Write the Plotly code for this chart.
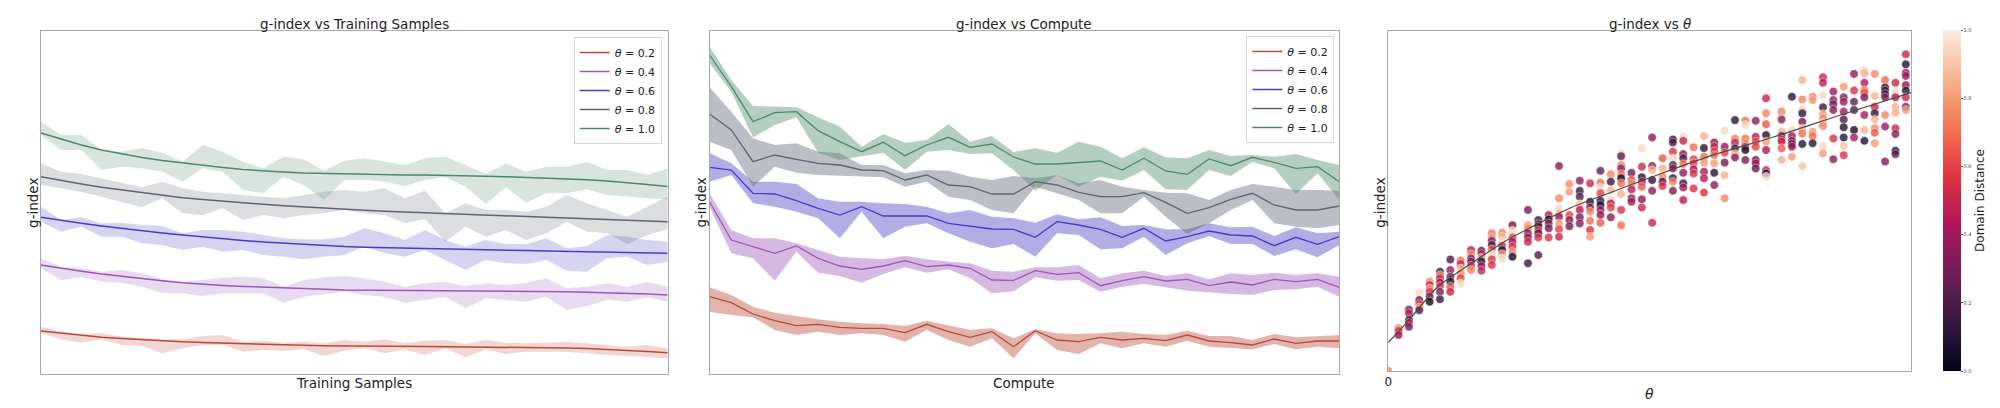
import plotly.graph_objects as go

# ---------------- data ----------------
THETA_LABELS = ["0.2", "0.4", "0.6", "0.8", "1.0"]
COLORS = ["#b94a38", "#9b59b6", "#4a3cc2", "#5f6575", "#4c8a6c"]

# Panel 1: g-index vs training samples (arbitrary g-index units, no ticks shown)
train_steps = list(range(32))
train_mean_02 = [43, 40.8, 38.7, 36.7, 35.4, 34.2, 33.2, 32.3, 31.5, 30.8, 30.2, 29.6, 29, 28.7, 28.3, 28, 27.9, 27.8, 27.7, 27.5, 27.3, 27.2, 27.1, 26.9, 26.7, 26.4, 26, 25.5, 24.7, 23.7, 22.6, 21.3]
train_hi_02 = [47.3, 42.5, 40, 40.7, 37.3, 36, 34.7, 34.7, 38, 39, 32.3, 33.3, 31.3, 32.3, 30.7, 34, 32.3, 34.7, 30.7, 33.3, 34, 30, 34, 31.3, 30.7, 31.3, 32.3, 30.7, 29, 27.3, 29, 25.7]
train_lo_02 = [40.7, 34.7, 31.3, 34.7, 29, 28, 20.7, 25.7, 29, 29, 22.3, 24, 23.3, 24.7, 18, 23.3, 25.7, 20.7, 24.7, 19, 25.7, 16.7, 24.7, 20, 22.3, 22.3, 22.3, 20.7, 19, 18, 16.7, 15.7]

train_mean_04 = [109, 105.7, 102.7, 100, 97.6, 95.4, 93.3, 91.3, 89.8, 88.6, 87.6, 86.7, 86, 85.3, 84.7, 84, 83.9, 83.7, 83.6, 83.4, 83.3, 83.2, 83, 82.9, 82.7, 82.5, 82.2, 81.8, 81.3, 80.7, 80, 79]
train_hi_04 = [115.7, 107, 105.7, 102.3, 104, 100.7, 95, 92.3, 94, 96.3, 97.3, 95.7, 87.3, 94, 96.7, 98, 95.7, 92.3, 87.3, 90.7, 92.3, 88, 90.7, 89, 91.3, 95.7, 85.7, 87.3, 90.7, 87.3, 92.3, 87.3]
train_lo_04 = [105.7, 94, 97.3, 92.3, 91.3, 87.3, 80.7, 80.7, 78, 80.7, 80.7, 80.7, 71.3, 77.3, 80, 82.3, 79, 77.3, 71.3, 74, 77.3, 65.7, 75.7, 74, 72.3, 77.3, 64, 68, 74, 72.3, 76.7, 72.3]

train_mean_06 = [156.7, 153.5, 150.7, 148, 145.5, 143, 141, 139, 137, 135.2, 133.5, 132, 130.7, 129.5, 128.4, 127.4, 126.7, 126.2, 125.8, 125.4, 125, 124.6, 124.2, 123.8, 123.4, 123, 122.7, 122.3, 122, 121.6, 121.2, 120.7]
train_hi_06 = [167.3, 154, 156.7, 150.7, 151.3, 149, 148, 140.7, 144, 144, 142.3, 139, 135.7, 134.7, 134.7, 137.3, 145.7, 140.7, 134, 144, 134, 127.3, 134, 130, 130, 135.7, 125.7, 128, 139, 137.3, 134, 132.3]
train_lo_06 = [152.3, 142.3, 147.3, 137.3, 137.3, 130.7, 129, 124, 127.3, 122.3, 124, 119, 117.3, 114.7, 117.3, 119, 127.3, 120.7, 117.3, 124, 114, 104, 114, 110.7, 110, 114, 103.3, 102.3, 115.7, 117.3, 109, 112.3]

train_mean_08 = [197.3, 193.5, 190, 186.7, 184, 181.5, 179, 176.3, 174.5, 172.7, 171, 169.7, 168.3, 167, 165.8, 164.7, 163.7, 162.8, 162, 161, 160, 159.3, 158.7, 158, 157.3, 156.7, 156, 155.4, 154.7, 154, 153.2, 152.3]
train_hi_08 = [210.7, 202.3, 200, 195.7, 191.3, 186.7, 192.3, 185.7, 182.3, 180.7, 179, 177.3, 175.7, 179, 182.3, 184, 182.3, 185.7, 175.7, 183.3, 161, 170.7, 164, 164, 162.3, 167.3, 179, 170.7, 164, 157.3, 167.3, 177.3]
train_lo_08 = [189, 185.7, 182.3, 177.3, 172.3, 166.7, 175.7, 160.7, 159, 165.7, 154, 159, 155.7, 159, 160.7, 164, 160.7, 159, 150.7, 155, 132.3, 147.3, 137.3, 144, 134, 140.7, 152.3, 142.3, 140.7, 130, 139, 145]

train_mean_10 = [241, 235, 229, 224, 220, 216.5, 213.5, 211, 208.5, 206.5, 204.5, 203, 202, 201, 200.5, 200, 199.7, 199.4, 199.1, 198.9, 198.7, 198.3, 197.8, 197.3, 196.7, 196, 195.2, 194.2, 193, 191.5, 189.5, 187.5]
train_hi_10 = [252.3, 239, 239, 224, 222.3, 225.7, 221.3, 212.3, 229, 222.3, 212.3, 205.7, 217.3, 214.7, 203.3, 213.3, 215.7, 212.3, 209, 215.7, 217.3, 209, 200, 210.7, 202.3, 207.3, 207.3, 212.3, 204, 204, 199, 205.7]
train_lo_10 = [239, 224, 224, 204, 207.3, 205.7, 202.3, 192.3, 205.7, 202.3, 184, 180.7, 197.3, 189, 174, 194, 194, 192.3, 188, 194, 196.7, 187.3, 170, 186.7, 171.3, 180.7, 180.7, 184.7, 179, 177.3, 175.7, 174.7]

# Panel 2: g-index vs compute
compute_steps = list(range(30))
comp_mean_02 = [77.3, 71.3, 60, 53.3, 48.3, 49.7, 46.7, 45.7, 45.7, 41.3, 49.7, 42.3, 36.7, 42.3, 27.3, 43.3, 34, 32.3, 36.7, 34, 35.7, 33.3, 39, 33, 31.3, 29, 35, 30.7, 33, 33]
comp_hi_02 = [86.7, 79, 67.3, 61.3, 58, 54.7, 52.3, 50.7, 50, 48, 53.3, 49, 44, 45.7, 35.7, 44.7, 40.7, 40, 40.7, 42.3, 40, 39, 43.3, 38, 38, 34, 40, 36.7, 38, 39]
comp_lo_02 = [62.3, 59, 56.7, 44, 39, 42.3, 39, 40.7, 39, 32.3, 44, 34, 27.3, 35.7, 15.7, 40.7, 24, 20, 30.7, 25.7, 30.7, 27.3, 33.3, 27.3, 25.7, 24.7, 30, 24.7, 27.3, 25.7]

comp_mean_04 = [172.3, 134, 127.3, 120.7, 128, 115.7, 108, 104.7, 108, 113.3, 107.3, 109, 105.7, 94, 93.7, 103.3, 99.7, 101.3, 88.3, 93.3, 97.3, 93, 94.7, 88.3, 92, 89, 94.7, 92.3, 94.7, 86.7]
comp_hi_04 = [180.7, 144, 135.7, 135.7, 130.7, 124, 117.3, 115.7, 114.7, 118, 114.7, 112.3, 110.7, 103.3, 102.3, 106.7, 106.7, 109, 95.7, 100.7, 103.3, 98, 100.7, 94.7, 100.7, 99, 101.3, 99, 100.7, 97.3]
comp_lo_04 = [167.3, 120.7, 115.7, 93.3, 122.3, 101.3, 98, 91.3, 100, 106.7, 101.3, 104.7, 95.7, 80.7, 82.7, 96.7, 93.3, 94, 82.3, 87.3, 90, 86.7, 83.3, 81.3, 80, 79, 84, 84.7, 87.3, 77.3]

comp_mean_06 = [206.7, 204, 180.7, 180, 173.3, 165.7, 159, 167.3, 158, 158, 158, 150.7, 148, 145, 144.7, 136.7, 152.3, 149, 144.7, 136.7, 145.7, 133, 137.3, 143, 139, 138, 128.3, 136.7, 129.7, 137.3]
comp_hi_06 = [220.7, 210.7, 192.3, 192.3, 190, 175.7, 172.3, 172.3, 170.7, 170, 167.3, 160.7, 164, 157.3, 155.7, 151.3, 159.7, 154.7, 156.7, 148, 149, 144.7, 144.7, 150.7, 146.7, 147.3, 138, 146.7, 140.7, 142.3]
comp_lo_06 = [192.3, 199, 170.7, 167.3, 162.3, 155.7, 135.7, 162.3, 135.7, 147.3, 150.7, 140.7, 132.3, 125.7, 130, 117.3, 140.7, 139, 124.7, 125.7, 137.3, 119, 130.7, 138, 130, 130, 118, 124.7, 116.7, 129]

comp_mean_08 = [260, 244, 212.3, 219, 214.7, 210.7, 209, 204, 203.3, 194, 199, 189, 187.3, 180, 180, 192.3, 189, 181.7, 177.3, 177.3, 181.3, 171.7, 160.7, 166.3, 174.7, 180.7, 169, 164, 164, 168]
comp_hi_08 = [286.7, 262.3, 235.7, 229, 230.7, 222.3, 220.7, 209, 209, 200.7, 204, 203.3, 197.3, 194, 198, 195.7, 199, 190.7, 194, 187.3, 184, 181.3, 180.7, 174, 184, 190, 187.3, 184, 184, 183.3]
comp_lo_08 = [232.3, 224, 187.3, 207.3, 201.3, 199, 198, 197.3, 196.7, 187.3, 192.3, 177.3, 174, 164, 160.7, 187.3, 180.7, 174, 160.7, 160.7, 177.3, 157.3, 140, 150.7, 164, 174, 150.7, 147.3, 145.7, 149]

comp_mean_10 = [319, 287.3, 252.3, 261.3, 262.3, 243.3, 232.3, 222.3, 231.7, 218.3, 229, 236.7, 226.7, 230, 217, 210, 210, 211.3, 213, 204, 215.7, 203, 199.7, 215, 208.3, 216.7, 211.7, 205.7, 207.3, 192.3]
comp_hi_10 = [327.3, 294, 268, 267.3, 266.7, 256.7, 247.3, 227.3, 240, 231.3, 234, 250, 232.3, 238, 222, 225.7, 221.3, 232.3, 227.3, 215.7, 226.7, 216.7, 215.7, 224, 218, 219, 217.3, 220, 214, 209]
comp_lo_10 = [310.7, 282.3, 236.7, 249, 256.7, 221.3, 214, 217.3, 221.3, 204, 222.3, 224, 220, 220.7, 204, 183.3, 199, 187.3, 197.3, 193.3, 204, 184.7, 184, 204, 198, 212.3, 205.7, 180, 200.7, 174]

# Panel 3: g-index vs theta, coloured by domain distance
col_theta = [0.02, 0.04, 0.06, 0.08, 0.10, 0.12, 0.14, 0.16, 0.18, 0.20, 0.22, 0.24,
             0.27, 0.29, 0.31, 0.33, 0.35, 0.37, 0.39, 0.41, 0.43, 0.45, 0.47, 0.49,
             0.51, 0.53, 0.55, 0.57, 0.59, 0.61, 0.63, 0.65, 0.67, 0.69, 0.71, 0.73,
             0.76, 0.78, 0.80, 0.82, 0.84, 0.86, 0.88, 0.90, 0.92, 0.94, 0.96, 0.98, 1.00]
col_g = [
    [0.125, 0.117, 0.105],
    [0.180, 0.169, 0.149, 0.141, 0.129],
    [0.229, 0.208, 0.196, 0.186, 0.178],
    [0.262, 0.252, 0.242, 0.232, 0.218, 0.203],
    [0.291, 0.281, 0.272, 0.259, 0.249, 0.232, 0.210],
    [0.327, 0.296, 0.276, 0.262, 0.247, 0.232],
    [0.324, 0.314, 0.301, 0.286, 0.272, 0.257],
    [0.355, 0.343, 0.330, 0.321, 0.309, 0.296],
    [0.353, 0.343, 0.333, 0.321, 0.308, 0.294],
    [0.404, 0.392, 0.382, 0.370, 0.357, 0.343, 0.327, 0.311],
    [0.406, 0.394, 0.379, 0.367, 0.355, 0.343, 0.330],
    [0.428, 0.412, 0.392, 0.379, 0.365, 0.350, 0.335],
    [0.473, 0.428, 0.419, 0.404, 0.392, 0.379, 0.316],
    [0.443, 0.431, 0.424, 0.414, 0.404, 0.392, 0.340],
    [0.458, 0.445, 0.433, 0.419, 0.392],
    [0.602, 0.507, 0.477, 0.463, 0.453, 0.433, 0.416, 0.394],
    [0.549, 0.526, 0.458, 0.443, 0.425],
    [0.559, 0.529, 0.512, 0.490, 0.473, 0.451, 0.433],
    [0.551, 0.497, 0.480, 0.468, 0.441, 0.414, 0.394],
    [0.588, 0.553, 0.539, 0.522, 0.500, 0.487, 0.473, 0.458, 0.435],
    [0.578, 0.556, 0.531, 0.504, 0.492, 0.480, 0.451],
    [0.639, 0.631, 0.605, 0.595, 0.578, 0.566, 0.551, 0.520, 0.473, 0.428],
    [0.582, 0.561, 0.551, 0.533, 0.507, 0.497],
    [0.654, 0.600, 0.569, 0.556, 0.541, 0.504, 0.480],
    [0.686, 0.602, 0.590, 0.561, 0.529, 0.435],
    [0.625, 0.595, 0.571, 0.556, 0.543],
    [0.680, 0.671, 0.644, 0.625, 0.605, 0.595, 0.566, 0.556, 0.529],
    [0.688, 0.676, 0.637, 0.625, 0.608, 0.582, 0.551, 0.539, 0.502],
    [0.657, 0.622, 0.610, 0.592, 0.580, 0.536],
    [0.690, 0.655, 0.629, 0.612, 0.585, 0.566, 0.524],
    [0.671, 0.659, 0.644, 0.634, 0.610, 0.582, 0.546],
    [0.706, 0.659, 0.641, 0.612, 0.575, 0.507],
    [0.737, 0.683, 0.671, 0.654, 0.637, 0.627],
    [0.735, 0.723, 0.683, 0.669, 0.659, 0.649, 0.620],
    [0.735, 0.688, 0.674, 0.659, 0.620, 0.610, 0.595],
    [0.801, 0.757, 0.725, 0.693, 0.674, 0.649, 0.590, 0.580, 0.571],
    [0.762, 0.739, 0.703, 0.690, 0.680, 0.674, 0.654, 0.620],
    [0.806, 0.708, 0.690, 0.676, 0.667, 0.659, 0.629],
    [0.855, 0.798, 0.767, 0.757, 0.732, 0.713, 0.698, 0.667, 0.602],
    [0.806, 0.796, 0.703, 0.690, 0.669],
    [0.863, 0.847, 0.811, 0.775, 0.755, 0.742, 0.729, 0.720, 0.661, 0.639],
    [0.821, 0.796, 0.784, 0.767, 0.683, 0.622],
    [0.835, 0.804, 0.791, 0.762, 0.739, 0.716, 0.686, 0.661, 0.634],
    [0.873, 0.824, 0.791, 0.767, 0.708, 0.686],
    [0.884, 0.875, 0.847, 0.825, 0.818, 0.804, 0.752, 0.708, 0.676],
    [0.873, 0.808, 0.776, 0.757, 0.739, 0.713, 0.700, 0.669],
    [0.855, 0.833, 0.824, 0.814, 0.804, 0.752, 0.718, 0.615],
    [0.847, 0.818, 0.804, 0.776, 0.759, 0.713, 0.696, 0.647, 0.637],
    [0.931, 0.901, 0.876, 0.867, 0.840, 0.824, 0.804, 0.776, 0.767],
]
col_dist = [
    [0.72, 0.55, 0.38],
    [0.30, 0.45, 0.08, 0.50, 0.30],
    [0.95, 0.30, 0.60, 0.80, 0.20],
    [0.75, 0.50, 0.80, 0.55, 0.30, 0.05],
    [0.15, 0.75, 0.50, 0.35, 0.60, 0.30, 0.15],
    [0.20, 0.40, 0.25, 0.10, 0.65, 0.50],
    [0.70, 0.50, 0.85, 0.75, 0.60, 0.95],
    [0.45, 0.75, 0.35, 0.30, 0.55, 0.75],
    [0.20, 0.45, 0.80, 0.05, 0.40, 0.50],
    [0.70, 0.80, 0.35, 0.20, 0.65, 0.95, 0.55, 0.55],
    [0.75, 0.85, 0.95, 0.50, 0.10, 0.80, 0.95],
    [0.25, 0.95, 0.60, 0.40, 0.55, 0.75, 0.05],
    [0.30, 0.80, 0.75, 0.35, 0.40, 0.50, 0.15],
    [0.15, 0.30, 0.05, 0.60, 0.20, 0.55, 0.20],
    [0.45, 0.05, 0.35, 0.30, 0.55],
    [0.35, 0.75, 0.95, 0.85, 0.35, 0.80, 0.60, 0.50],
    [0.75, 0.80, 0.60, 0.35, 0.30],
    [0.35, 0.15, 0.20, 0.90, 0.45, 0.30, 0.35],
    [0.50, 0.10, 0.30, 0.75, 0.70, 0.55, 0.80],
    [0.25, 0.70, 0.95, 0.60, 0.15, 0.05, 0.40, 0.35, 0.65],
    [0.75, 0.15, 0.85, 0.95, 0.45, 0.60, 0.35],
    [0.95, 0.25, 0.75, 0.40, 0.70, 0.05, 0.70, 0.85, 0.55, 0.70],
    [0.30, 0.60, 0.75, 0.45, 0.35, 0.40],
    [0.95, 0.50, 0.10, 0.40, 0.65, 0.35, 0.50],
    [0.35, 0.35, 0.85, 0.10, 0.35, 0.50],
    [0.65, 0.85, 0.75, 0.20, 0.55],
    [0.10, 0.20, 0.55, 0.95, 0.20, 0.35, 0.10, 0.75, 0.30],
    [0.95, 0.50, 0.35, 0.20, 0.70, 0.35, 0.15, 0.40, 0.45],
    [0.70, 0.60, 0.60, 0.35, 0.55, 0.55],
    [0.85, 0.10, 0.70, 0.80, 0.40, 0.45, 0.55],
    [0.30, 0.50, 0.55, 0.70, 0.80, 0.10, 0.35],
    [0.95, 0.35, 0.60, 0.30, 0.85, 0.75],
    [0.10, 0.75, 0.50, 0.20, 0.85, 0.35],
    [0.70, 0.95, 0.70, 0.75, 0.50, 0.05, 0.30],
    [0.35, 0.45, 0.60, 0.60, 0.25, 0.40, 0.25],
    [0.50, 0.75, 0.65, 0.10, 0.80, 0.40, 0.50, 0.05, 0.95],
    [0.75, 0.35, 0.85, 0.20, 0.55, 0.50, 0.65, 0.85],
    [0.10, 0.95, 0.40, 0.30, 0.25, 0.35, 0.80],
    [0.85, 0.75, 0.90, 0.15, 0.30, 0.85, 0.70, 0.10, 0.90],
    [0.75, 0.80, 0.80, 0.70, 0.10],
    [0.50, 0.45, 0.95, 0.15, 0.80, 0.75, 0.85, 0.75, 0.95, 0.80],
    [0.40, 0.35, 0.30, 0.35, 0.55, 0.35],
    [0.80, 0.30, 0.40, 0.40, 0.20, 0.10, 0.10, 0.90, 0.55],
    [0.35, 0.55, 0.25, 0.20, 0.05, 0.40],
    [0.95, 0.85, 0.45, 0.70, 0.65, 0.30, 0.40, 0.85, 0.10],
    [0.75, 0.85, 0.50, 0.10, 0.85, 0.75, 0.65, 0.80],
    [0.70, 0.10, 0.15, 0.20, 0.35, 0.75, 0.40, 0.35],
    [0.50, 0.95, 0.45, 0.85, 0.85, 0.50, 0.35, 0.10, 0.25],
    [0.50, 0.10, 0.35, 0.40, 0.35, 0.10, 0.50, 0.30, 0.80],
]
origin_theta, origin_g, origin_dist = [0.0], [0.0], [0.72]

fit_theta = [0.0, 0.04, 0.096, 0.161, 0.225, 0.289, 0.354, 0.431, 0.508, 0.617, 0.746, 0.874, 1.010]
fit_g = [0.083, 0.149, 0.247, 0.316, 0.380, 0.432, 0.480, 0.525, 0.569, 0.629, 0.688, 0.752, 0.818]

ROCKET = [[0.0, "#03051a"], [1/7, "#35193e"], [2/7, "#701f57"], [3/7, "#ad1759"],
          [4/7, "#e13342"], [5/7, "#f37651"], [6/7, "#f6b48f"], [1.0, "#faebdd"]]

# ---------------- figure ----------------
FONT = "DejaVu Sans"
TXT = "#222222"
W, H = 2000, 408


def rgba(hex_color, a):
    h = hex_color.lstrip("#")
    r, g, b = int(h[0:2], 16), int(h[2:4], 16), int(h[4:6], 16)
    return f"rgba({r},{g},{b},{a})"


fig = go.Figure()

train_sets = [(train_mean_02, train_lo_02, train_hi_02), (train_mean_04, train_lo_04, train_hi_04),
              (train_mean_06, train_lo_06, train_hi_06), (train_mean_08, train_lo_08, train_hi_08),
              (train_mean_10, train_lo_10, train_hi_10)]
comp_sets = [(comp_mean_02, comp_lo_02, comp_hi_02), (comp_mean_04, comp_lo_04, comp_hi_04),
             (comp_mean_06, comp_lo_06, comp_hi_06), (comp_mean_08, comp_lo_08, comp_hi_08),
             (comp_mean_10, comp_lo_10, comp_hi_10)]


def add_panel(xs, sets, xa, ya, alpha, lw, legend_name):
    for (m, lo, hi), c in zip(sets, COLORS):
        fig.add_trace(go.Scatter(x=xs + xs[::-1], y=hi + lo[::-1], fill="toself",
                                 fillcolor=rgba(c, alpha), line=dict(width=0),
                                 mode="lines", hoverinfo="skip", showlegend=False,
                                 xaxis=xa, yaxis=ya))
    for (m, lo, hi), c, lab in zip(sets, COLORS, THETA_LABELS):
        fig.add_trace(go.Scatter(x=xs, y=m, mode="lines", line=dict(color=c, width=lw),
                                 name=f"<i>θ</i> = {lab}", legend=legend_name,
                                 xaxis=xa, yaxis=ya))


add_panel(train_steps, train_sets, "x", "y", 0.22, 1.5, "legend")
add_panel(compute_steps, comp_sets, "x2", "y2", 0.42, 1.3, "legend2")

sc_theta, sc_g, sc_d = [], [], []
for t, gs, ds in zip(col_theta, col_g, col_dist):
    sc_theta += [t] * len(gs)
    sc_g += gs
    sc_d += ds
sc_theta = origin_theta + sc_theta
sc_g = origin_g + sc_g
sc_d = origin_dist + sc_d

fig.add_trace(go.Scatter(
    x=sc_theta, y=sc_g, mode="markers", showlegend=False, xaxis="x3", yaxis="y3",
    marker=dict(size=8.5, color=sc_d, colorscale=ROCKET, cmin=0, cmax=1, opacity=0.8,
                line=dict(color="white", width=0.5),
                colorbar=dict(x=1943 / W, xanchor="left", xpad=0, ypad=0,
                              y=1 - 200.5 / H, yanchor="middle", len=341 / H, lenmode="fraction",
                              thickness=18, thicknessmode="pixels", outlinewidth=0,
                              ticks="outside", ticklen=2, tickwidth=0.6, tickcolor="#555",
                              tickvals=[0, 0.2, 0.4, 0.6, 0.8, 1.0],
                              ticktext=["0.0", "0.2", "0.4", "0.6", "0.8", "1.0"],
                              tickfont=dict(family=FONT, size=5, color="#444"),
                              title=dict(text="Domain Distance", side="right",
                                         font=dict(family=FONT, size=12, color=TXT))))))
fig.add_trace(go.Scatter(x=fit_theta, y=fit_g, mode="lines", showlegend=False,
                         line=dict(color="#4a4a4a", width=1.2, shape="spline", smoothing=0.8),
                         xaxis="x3", yaxis="y3"))

frame = dict(showline=True, mirror=True, linecolor="#a8a8a8", linewidth=1,
             showgrid=False, zeroline=False, ticks="", showticklabels=False)

fig.update_layout(
    width=W, height=H, margin=dict(l=0, r=0, t=0, b=0),
    paper_bgcolor="white", plot_bgcolor="white",
    font=dict(family=FONT, color=TXT),
    xaxis=dict(domain=[37 / W, 665 / W], range=[0, 31], anchor="y", **frame),
    yaxis=dict(domain=[1 - 374 / H, 1 - 31 / H], range=[0, 343], anchor="x", **frame),
    xaxis2=dict(domain=[707 / W, 1338 / W], range=[0, 29], anchor="y2", **frame),
    yaxis2=dict(domain=[1 - 374 / H, 1 - 31 / H], range=[0, 343], anchor="x2", **frame),
    xaxis3=dict(domain=[1387 / W, 1911 / W], range=[0, 1.0104], anchor="y3",
                **{**frame, "showticklabels": True}, tickvals=[0], ticktext=["0"],
                tickfont=dict(family=FONT, size=12, color=TXT)),
    yaxis3=dict(domain=[1 - 370.7 / H, 1 - 30.7 / H], range=[0, 1.0], anchor="x3", **frame),
    legend=dict(x=659 / W, xanchor="right", y=1 - 37 / H, yanchor="top",
                bgcolor="rgba(255,255,255,0.85)", bordercolor="#d6d6d6", borderwidth=1,
                font=dict(family=FONT, size=11, color=TXT), itemwidth=30),
    legend2=dict(x=1333 / W, xanchor="right", y=1 - 36 / H, yanchor="top",
                 bgcolor="rgba(255,255,255,0.85)", bordercolor="#d6d6d6", borderwidth=1,
                 font=dict(family=FONT, size=11, color=TXT), itemwidth=30),
)

ann = [
    ("g-index vs Training Samples", 351, 24, 0, 13.5),
    ("g-index vs Compute", 1022.5, 24, 0, 13.5),
    ("g-index vs <i>θ</i>", 1649, 24, 0, 13.5),
    ("Training Samples", 351, 383, 0, 13.5),
    ("Compute", 1022.5, 383, 0, 13.5),
    ("<i>θ</i>", 1649, 394, 0, 14),
    ("g-index", 29, 203, -90, 13.5),
    ("g-index", 698, 203, -90, 13.5),
    ("g-index", 1378, 202.5, -90, 13.5),
]
for text, px, py, ang, fs in ann:
    fig.add_annotation(text=text, x=px / W, y=1 - py / H, xref="paper", yref="paper",
                       xanchor="center", yanchor="middle", showarrow=False, textangle=ang,
                       font=dict(family=FONT, size=fs, color=TXT))

fig.write_html("out.html", config={"displayModeBar": False},
               post_script="document.body.style.margin='0px';")
